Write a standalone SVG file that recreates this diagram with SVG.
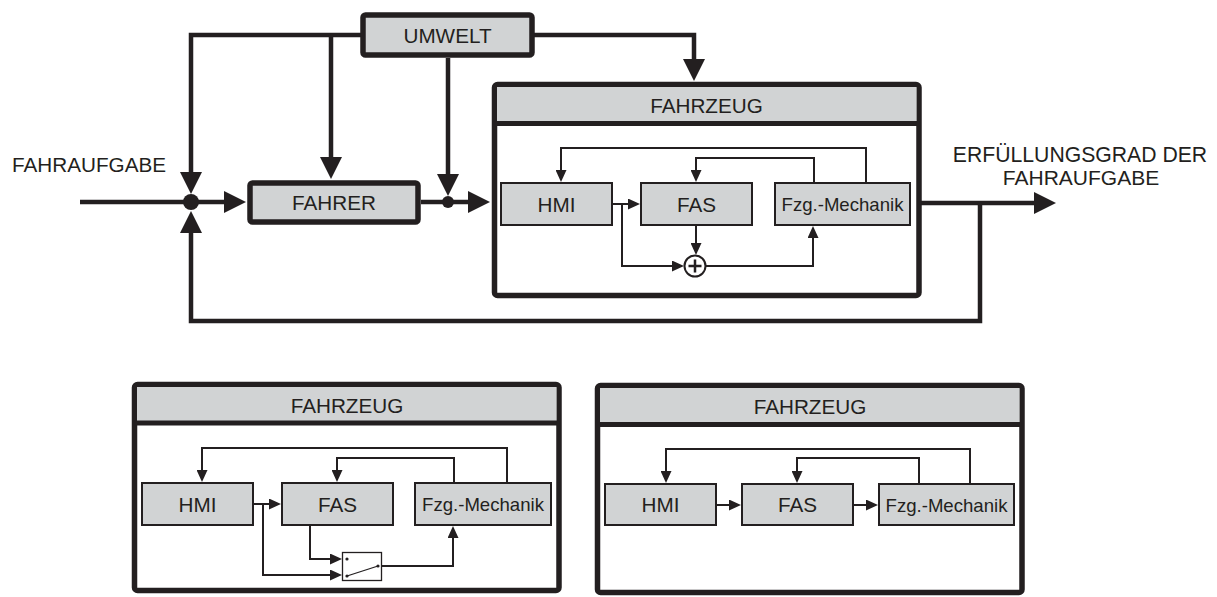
<svg xmlns="http://www.w3.org/2000/svg" width="1217" height="597" viewBox="0 0 1217 597">
  <style>
    .lbl { font-family: "Liberation Sans", Arial, sans-serif; font-size: 20.7px; fill: #231f20; text-anchor: middle; }
    .lblS { font-family: "Liberation Sans", Arial, sans-serif; font-size: 18.6px; fill: #231f20; text-anchor: middle; }
    .thick { fill: #d1d3d4; stroke: #231f20; stroke-width: 5.5; }
    .frame { fill: #ffffff; stroke: #231f20; stroke-width: 5.5; }
    .head { fill: #d1d3d4; stroke: none; }
    .sep { stroke: #231f20; stroke-width: 5; fill: none; }
    .blk { fill: #d1d3d4; stroke: #231f20; stroke-width: 2; }
    .wthick { fill: none; stroke: #231f20; stroke-width: 4.5; }
    .wthin { fill: none; stroke: #231f20; stroke-width: 2; }
    .dot { fill: #231f20; }
  </style>
  <defs>
    <marker id="ah" markerUnits="userSpaceOnUse" markerWidth="22" markerHeight="22" refX="14" refY="11" orient="auto">
      <path d="M0,0 L22,11 L0,22 Z" fill="#231f20"/>
    </marker>
    <marker id="as" markerUnits="userSpaceOnUse" markerWidth="12" markerHeight="11" refX="8" refY="5.5" orient="auto">
      <path d="M0,0 L12,5.5 L0,11 Z" fill="#231f20"/>
    </marker>
  </defs>

  <!-- external labels -->
  <text class="lbl" x="12" y="172" style="text-anchor:start">FAHRAUFGABE</text>
  <text class="lbl" x="1080" y="162" style="font-size:21.2px">ERFÜLLUNGSGRAD DER</text>
  <text class="lbl" x="1081" y="185" style="font-size:21px">FAHRAUFGABE</text>

  <!-- main control loop connectors -->
  <g id="connectors">
    <path class="wthick" d="M80,202 H191"/>
    <path class="wthick" d="M191,202 H238" marker-end="url(#ah)"/>
    <path class="wthick" d="M362,35 H191 V186" marker-end="url(#ah)"/>
    <path class="wthick" d="M331,35 V171" marker-end="url(#ah)"/>
    <path class="wthick" d="M448,58 V188" marker-end="url(#ah)"/>
    <path class="wthick" d="M421,202 H448"/>
    <path class="wthick" d="M448,202 H482" marker-end="url(#ah)"/>
    <path class="wthick" d="M533,35 H694 V73" marker-end="url(#ah)"/>
    <path class="wthick" d="M911,203 H1048" marker-end="url(#ah)"/>
    <path class="wthick" d="M980,203 V321 H191 V219" marker-end="url(#ah)"/>
    <circle class="dot" cx="191" cy="202" r="8"/>
    <circle class="dot" cx="448" cy="202" r="6"/>
  </g>

  <g id="umwelt">
    <rect class="thick" x="363" y="15" width="169" height="40" rx="2.5"/>
    <text class="lbl" x="447.5" y="42.5">UMWELT</text>
  </g>

  <g id="fahrer">
    <rect class="thick" x="250" y="183" width="168" height="39" rx="2.5"/>
    <text class="lbl" x="334" y="210">FAHRER</text>
  </g>

  <!-- vehicle with driver assistance, summing combination -->
  <g id="fahrzeug-main">
    <rect class="frame" x="494.5" y="84.5" width="424.5" height="211" rx="3"/>
    <rect class="head" x="497" y="87" width="419.5" height="36"/>
    <path class="sep" d="M494.5,123.5 H919"/>
    <text class="lbl" x="706.5" y="113">FAHRZEUG</text>
    <g id="main-hmi">
      <rect class="blk" x="501" y="183" width="111" height="42"/>
      <text class="lbl" x="556.5" y="211.5">HMI</text>
    </g>
    <g id="main-fas">
      <rect class="blk" x="641" y="183" width="111" height="42"/>
      <text class="lbl" x="696.5" y="211.5">FAS</text>
    </g>
    <g id="main-mech">
      <rect class="blk" x="775" y="183" width="135" height="42"/>
      <text class="lblS" x="842.5" y="211">Fzg.-Mechanik</text>
    </g>
    <g id="main-sum">
      <circle cx="695" cy="266" r="10.5" fill="#ffffff" stroke="#231f20" stroke-width="2"/>
      <path d="M688.5,266 H701.5 M695,259.5 V272.5" stroke="#231f20" stroke-width="2.5" fill="none"/>
    </g>
    <g id="main-links">
      <path class="wthin" d="M613,204 H636" marker-end="url(#as)"/>
      <path class="wthin" d="M622,204 V266 H680" marker-end="url(#as)"/>
      <path class="wthin" d="M696,226 V251" marker-end="url(#as)"/>
      <path class="wthin" d="M705.5,266 H813 V230" marker-end="url(#as)"/>
      <path class="wthin" d="M866,182 V148 H561 V178" marker-end="url(#as)"/>
      <path class="wthin" d="M814,182 V158 H696 V178" marker-end="url(#as)"/>
    </g>
  </g>

  <!-- vehicle variant with switching -->
  <g id="fahrzeug-switch">
    <rect class="frame" x="134.5" y="384.5" width="424.5" height="206" rx="3"/>
    <rect class="head" x="137" y="387" width="419.5" height="36"/>
    <path class="sep" d="M134.5,423 H559"/>
    <text class="lbl" x="347" y="413">FAHRZEUG</text>
    <g id="sw-hmi">
      <rect class="blk" x="142" y="483" width="111" height="42"/>
      <text class="lbl" x="197.5" y="511.5">HMI</text>
    </g>
    <g id="sw-fas">
      <rect class="blk" x="282" y="483" width="111" height="42"/>
      <text class="lbl" x="337.5" y="511.5">FAS</text>
    </g>
    <g id="sw-mech">
      <rect class="blk" x="415" y="483" width="136" height="42"/>
      <text class="lblS" x="483" y="511">Fzg.-Mechanik</text>
    </g>
    <g id="sw-switch">
      <rect x="342.5" y="552.5" width="39" height="28" fill="#ffffff" stroke="#231f20" stroke-width="1.3"/>
      <path d="M347,576 L378,566" stroke="#231f20" stroke-width="1.3" fill="none"/>
      <circle class="dot" cx="347" cy="559" r="1.6"/>
      <circle class="dot" cx="347" cy="576" r="1.6"/>
      <circle class="dot" cx="378" cy="566" r="1.6"/>
    </g>
    <g id="sw-links">
      <path class="wthin" d="M254,504 H277" marker-end="url(#as)"/>
      <path class="wthin" d="M263,504 V575 H338" marker-end="url(#as)"/>
      <path class="wthin" d="M310,526 V559 H338" marker-end="url(#as)"/>
      <path class="wthin" d="M382,566 H453 V530" marker-end="url(#as)"/>
      <path class="wthin" d="M507,482 V448 H202 V478" marker-end="url(#as)"/>
      <path class="wthin" d="M454,482 V458 H337 V478" marker-end="url(#as)"/>
    </g>
  </g>

  <!-- vehicle variant in series -->
  <g id="fahrzeug-serial">
    <rect class="frame" x="597.5" y="385.5" width="424.5" height="207" rx="3"/>
    <rect class="head" x="600" y="388" width="419.5" height="36"/>
    <path class="sep" d="M597.5,424.5 H1022"/>
    <text class="lbl" x="810" y="414">FAHRZEUG</text>
    <g id="se-hmi">
      <rect class="blk" x="605" y="484" width="111" height="41"/>
      <text class="lbl" x="660.5" y="512">HMI</text>
    </g>
    <g id="se-fas">
      <rect class="blk" x="742" y="484" width="111" height="41"/>
      <text class="lbl" x="797.5" y="512">FAS</text>
    </g>
    <g id="se-mech">
      <rect class="blk" x="879" y="484" width="135" height="41"/>
      <text class="lblS" x="946.5" y="511.5">Fzg.-Mechanik</text>
    </g>
    <g id="se-links">
      <path class="wthin" d="M717,505 H737" marker-end="url(#as)"/>
      <path class="wthin" d="M854,505 H874" marker-end="url(#as)"/>
      <path class="wthin" d="M970,483 V449 H666 V479" marker-end="url(#as)"/>
      <path class="wthin" d="M919,483 V458 H797 V479" marker-end="url(#as)"/>
    </g>
  </g>
</svg>
